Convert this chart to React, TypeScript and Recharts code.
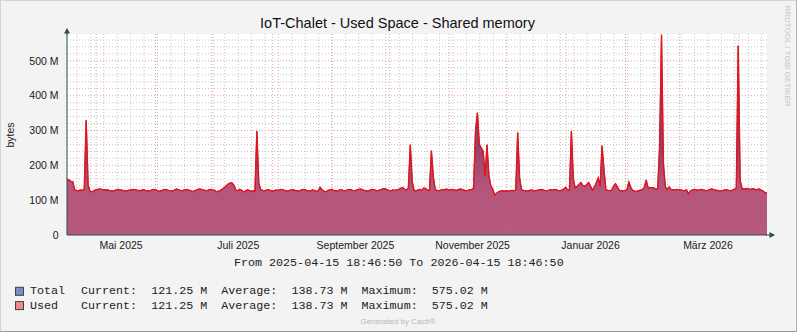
import { Area, CartesianGrid, ComposedChart, XAxis, YAxis } from 'recharts'

// time range of the graph (rrdtool window, one sample per day)
const START = Date.parse('2025-04-15T18:46:50Z')
const DAY = 86400000
const END = START + 365 * DAY

// Used space, M bytes, one value per day from START
const usedValues = [
  160, 158, 154, 153, 130, 128, 127, 129, 128, 131,
  329, 144, 126, 124, 127, 130, 131, 132, 131, 130,
  129, 130, 128, 127, 126, 128, 130, 131, 129, 128,
  127, 126, 128, 129, 130, 131, 129, 128, 127, 129,
  130, 128, 127, 126, 129, 131, 130, 128, 125, 127,
  129, 131, 130, 128, 127, 126, 129, 132, 130, 128,
  127, 129, 131, 130, 128, 126, 125, 128, 130, 132,
  131, 129, 128, 127, 130, 131, 129, 128, 124, 126,
  128, 132, 136, 141, 146, 149, 150, 143, 129, 127,
  131, 129, 124, 126, 130, 128, 125, 127, 126, 298,
  149, 130, 128, 127, 129, 130, 128, 126, 127, 129,
  128, 130, 131, 129, 127, 126, 128, 129, 130, 128,
  127, 126, 129, 131, 130, 128, 126, 127, 129, 128,
  125, 127, 137, 130, 126, 124, 128, 129, 131, 128,
  127, 126, 129, 130, 128, 127, 129, 131, 130, 128,
  127, 129, 131, 132, 130, 128, 127, 126, 129, 131,
  130, 128, 127, 129, 131, 133, 132, 130, 128, 127,
  129, 128, 130, 131, 134, 136, 132, 129, 135, 259,
  154, 128, 127, 129, 131, 128, 135, 133, 129, 128,
  242, 168, 130, 128, 127, 129, 131, 130, 132, 129,
  130, 131, 129, 128, 130, 132, 131, 129, 127, 128,
  130, 131, 134, 297, 351, 260, 250, 240, 168, 259,
  170, 140, 132, 115, 120, 124, 126, 127, 126, 127,
  126, 127, 128, 127, 129, 294, 163, 130, 128, 127,
  126, 127, 129, 128, 127, 128, 129, 131, 130, 128,
  127, 128, 130, 129, 131, 130, 128, 127, 129, 132,
  137, 130, 129, 298, 161, 135, 140, 145, 151, 142,
  140, 145, 151, 140, 128, 138, 150, 164, 140, 256,
  187, 130, 128, 127, 129, 140, 147, 138, 128, 127,
  126, 128, 130, 152, 136, 128, 126, 125, 127, 129,
  131, 136, 158, 135, 136, 136, 135, 131, 133, 253,
  575.02, 202, 138, 130, 138, 131, 130, 129, 131, 130,
  129, 128, 127, 130, 118, 126, 129, 131, 130, 128,
  130, 131, 129, 127, 128, 130, 132, 131, 129, 128,
  127, 126, 128, 129, 130, 128, 127, 129, 131, 135,
  543, 158, 132, 133, 132, 133, 131, 132, 133, 130,
  131, 132, 129, 126, 121, 121.25,
]
// Total and Used report the same numbers in this graph
const totalValues = usedValues

const monthLabels = ['Mai 2025', 'Juli 2025', 'September 2025', 'November 2025', 'Januar 2026', 'März 2026']
const monthLabelDays = [28.2, 89.3, 150.4, 211.5, 273.0, 334.2]
const monthStarts = [
  '2025-05-01', '2025-06-01', '2025-07-01', '2025-08-01', '2025-09-01', '2025-10-01',
  '2025-11-01', '2025-12-01', '2026-01-01', '2026-02-01', '2026-03-01', '2026-04-01',
]
const yMajor = [0, 100, 200, 300, 400, 500]
const yMinor = [
  20, 40, 60, 80, 120, 140, 160, 180, 220, 240, 260, 280, 320, 340, 360, 380,
  420, 440, 460, 480, 520, 540, 560,
]
const yMax = 577

const toDay = (iso: string) => (Date.parse(iso + 'T00:00:00Z') - START) / DAY
const monthDays = monthStarts.map(toDay)
const weekDays: number[] = []
for (let t = Date.parse('2025-04-21T00:00:00Z'); t < END; t += 7 * DAY) weekDays.push((t - START) / DAY)
const xTickMarks = [...weekDays, ...monthDays].sort((a, b) => a - b)

const data = usedValues.map((v, i) => ({ day: i, total: totalValues[i], used: v }))

const AXIS = '#2C4D43'
const SANS = '"Liberation Sans", Arial, sans-serif'
const MONO = '"Liberation Mono", "DejaVu Sans Mono", monospace'

function Legend() {
  const rows = [
    { name: 'Total', color: '#7b8cc9', y: 294.3 },
    { name: 'Used', color: '#f4868f', y: 308.6 },
  ]
  return (
    <>
      {rows.map((r) => (
        <g key={r.name}>
          <rect x={15.5} y={r.y - 7} width={8} height={8} fill={r.color} stroke={AXIS} strokeWidth={1} />
          <text x={30} y={r.y} fontFamily={MONO} fontSize={11.7} fill='#222' style={{ whiteSpace: 'pre' }}>
            {r.name}
          </text>
          <text x={81} y={r.y} fontFamily={MONO} fontSize={11.7} fill='#222' style={{ whiteSpace: 'pre' }}>
            {'Current:  121.25 M  Average:  138.73 M  Maximum:  575.02 M'}
          </text>
        </g>
      ))}
    </>
  )
}

export default function App() {
  return (
    <div style={{ position: 'absolute', left: 0, top: 0, width: 797, height: 332, background: '#f3f3f3' }}>
      <ComposedChart width={797} height={332} data={data} margin={{ top: 34, right: 30, bottom: 0, left: 0 }}>
        <defs>
          <linearGradient id='usedFill' x1='0' y1='0' x2='0' y2='1'>
            <stop offset='0' stopColor='#7c2c5e' />
            <stop offset='0.55' stopColor='#96406b' />
            <stop offset='0.76' stopColor='#b4567c' />
            <stop offset='1' stopColor='#b7587e' />
          </linearGradient>
        </defs>
        <CartesianGrid
          xAxisId='x'
          yAxisId='y'
          fill='#ffffff'
          stroke='#c4c4c4'
          strokeDasharray='1 2'
          verticalValues={weekDays}
          horizontalValues={yMinor}
        />
        <CartesianGrid
          xAxisId='x'
          yAxisId='y'
          stroke='#eb9a9a'
          strokeDasharray='1 2'
          verticalValues={monthDays}
          horizontalValues={yMajor.slice(1)}
        />
        <XAxis
          xAxisId='g'
          type='number'
          dataKey='day'
          domain={[0, 365]}
          ticks={xTickMarks}
          interval={0}
          height={0}
          tick={false}
          tickSize={2}
          tickLine={{ stroke: '#9a9a9a' }}
          axisLine={false}
        />
        <XAxis
          xAxisId='x'
          type='number'
          dataKey='day'
          domain={[0, 365]}
          ticks={monthLabelDays}
          interval={0}
          height={97}
          tickFormatter={(v) => monthLabels[monthLabelDays.indexOf(v)] ?? ''}
          tick={{ fill: '#1a1a1a', fontSize: 10.5, fontFamily: SANS }}
          tickLine={false}
          tickSize={0}
          tickMargin={7}
          axisLine={{ stroke: AXIS }}
        />
        <YAxis
          yAxisId='m'
          type='number'
          domain={[0, yMax]}
          ticks={yMinor}
          interval={0}
          width={0}
          tick={false}
          tickSize={3}
          tickLine={{ stroke: '#9a9a9a' }}
          axisLine={false}
        />
        <YAxis
          yAxisId='y'
          type='number'
          domain={[0, yMax]}
          ticks={yMajor}
          interval={0}
          width={67}
          tickFormatter={(v) => (v === 0 ? '0' : `${v} M`)}
          tick={{ fill: '#1a1a1a', fontSize: 10.5, fontFamily: SANS }}
          tickLine={false}
          tickSize={0}
          tickMargin={8.5}
          axisLine={{ stroke: AXIS }}
        />
        <Area
          xAxisId='x'
          yAxisId='y'
          dataKey='total'
          type='linear'
          fill='url(#usedFill)'
          fillOpacity={1}
          stroke='#8a3767'
          strokeWidth={1}
          isAnimationActive={false}
        />
        <Area
          xAxisId='x'
          yAxisId='y'
          dataKey='used'
          type='linear'
          fill='none'
          stroke='#e3151b'
          strokeWidth={1.4}
          isAnimationActive={false}
        />
      </ComposedChart>
      <svg width={797} height={332} style={{ position: 'absolute', left: 0, top: 0, pointerEvents: 'none' }}>
        <line x1={0} y1={0.5} x2={797} y2={0.5} stroke='#d4d4d4' />
        <line x1={0.5} y1={0} x2={0.5} y2={332} stroke='#d4d4d4' />
        <line x1={796.5} y1={0} x2={796.5} y2={332} stroke='#b4b4b4' />
        <line x1={0} y1={331.5} x2={797} y2={331.5} stroke='#9c9c9c' />
        <text x={397.5} y={27.8} textAnchor='middle' fontFamily={SANS} fontSize={14.5} fill='#111'>
          IoT-Chalet - Used Space - Shared memory
        </text>
        <text transform='translate(13.5,135) rotate(-90)' textAnchor='middle' fontFamily={SANS} fontSize={10.5} fill='#1a1a1a'>
          bytes
        </text>
        <text transform='translate(785,56) rotate(90)' textAnchor='middle' fontFamily={SANS} fontSize={8} fill='#c4c4c4'>
          RRDTOOL / TOBI OETIKER
        </text>
        <line x1={67} y1={30} x2={67} y2={35} stroke={AXIS} />
        <polygon points='64,33.5 70,33.5 67,28' fill={AXIS} />
        <line x1={766} y1={235} x2={771} y2={235} stroke={AXIS} />
        <polygon points='769.5,232 769.5,238 775,235' fill={AXIS} />
        <text x={234} y={266} fontFamily={MONO} fontSize={11.7} fill='#222' style={{ whiteSpace: 'pre' }}>
          From 2025-04-15 18:46:50 To 2026-04-15 18:46:50
        </text>
        <Legend />
        <text x={398} y={324.2} textAnchor='middle' fontFamily={SANS} fontSize={8} fill='#b8b8b8'>
          Generated by Cacti®
        </text>
      </svg>
    </div>
  )
}
